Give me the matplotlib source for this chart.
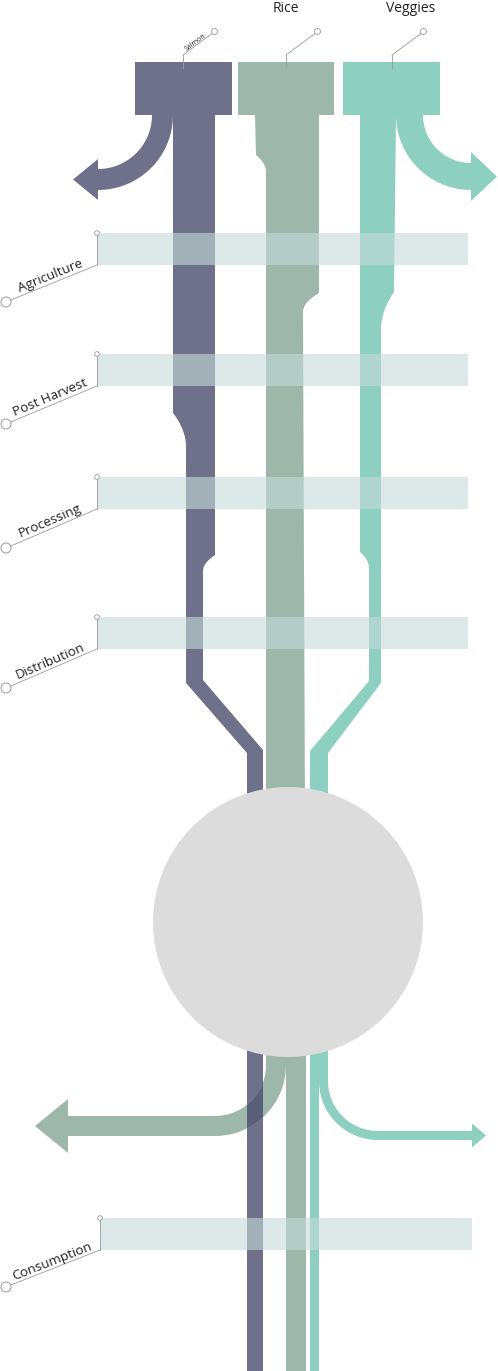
import numpy as np
import matplotlib
matplotlib.use('Agg')
import matplotlib.pyplot as plt
from matplotlib.patches import Polygon, Circle, Rectangle

plt.rcParams['font.family'] = ['Open Sans', 'DejaVu Sans']

foods = ['Salmon', 'Rice', 'Veggies']
stages = ['Agriculture', 'Post Harvest', 'Processing', 'Distribution', 'Consumption']
food_colors = ['#6f7089', '#9db8ab', '#8dd0c0']

# stream width (px) of each food: header, after agriculture, after post harvest,
# after processing, arriving at the table
salmon_w = [97, 42, 29, 17, 16]
rice_w = [96, 64, 53, 37, 40]
veggies_w = [97, 36, 21, 12, 18]
# width leaving as a loss arrow: [agriculture, consumption]
salmon_loss = [21, 0]
rice_loss = [0, 20]
veggies_loss = [27, 9]

# ---- layout (pixels, y down) ----
W_PX, H_PX = 498, 1371
head_x = [135, 238, 343]
head_top, head_bot = 62, 115
trunk_x = [173, 255, 360]
bottom_x = [247, 266, 310]        # where salmon / rice / veggies run past the plate
band_top = [233, 354, 477, 617, 1218]
band_h = 32
band_x0 = [97, 97, 97, 97, 100]
band_x1 = [468, 468, 468, 468, 472]
label_dot_y = [302, 424, 548, 688, 1287]
plate = (288, 922, 135)
band_color = '#c5dbd9'
line_color = '#9a9a9a'

fig = plt.figure(figsize=(W_PX / 100, H_PX / 100), dpi=100)
ax = fig.add_axes([0, 0, 1, 1])
ax.set_xlim(0, W_PX)
ax.set_ylim(H_PX, 0)
ax.axis('off')


def edge(pts, n=24):
    # pts: (y, x) or (y, x, 'o'); 'o' = bend in fast, then straighten out
    ys, xs = [pts[0][0]], [pts[0][1]]
    for p0, p1 in zip(pts[:-1], pts[1:]):
        y0, x0 = p0[0], p0[1]
        y1, x1 = p1[0], p1[1]
        t = np.linspace(0, 1, n)[1:]
        f = 1 - (1 - t) ** 2 if len(p1) > 2 else t
        ys.extend(y0 + (y1 - y0) * t)
        xs.extend(x0 + (x1 - x0) * f)
    return np.column_stack([xs, ys])


def trunk(left, right, color):
    pts = np.vstack([edge(left), edge(right)[::-1]])
    ax.add_patch(Polygon(pts, closed=True, fc=color, ec='none', zorder=2))


def bent_arrow(cx, cy, r_in, width, side, y_top, x_base, head, x_tip, color, z=2):
    # side=+1: flow comes down right of the centre and turns left; -1 the mirror
    r_out = r_in + width
    th = np.linspace(0, np.pi / 2, 40)
    inner = np.column_stack([cx + side * r_in * np.cos(th), cy + r_in * np.sin(th)])
    outer = np.column_stack([cx + side * r_out * np.cos(th), cy + r_out * np.sin(th)])[::-1]
    yc = cy + r_in + width / 2
    pts = [(cx + side * r_in, y_top)] + list(inner) + [
        (x_base, cy + r_in), (x_base, yc - head), (x_tip, yc),
        (x_base, yc + head), (x_base, cy + r_out)] + list(outer) + [(cx + side * r_out, y_top)]
    p = Polygon(pts, closed=True, fc=color, ec='none', zorder=z)
    ax.add_patch(p)
    return p


# headers
for x0, w, c in zip(head_x, [salmon_w[0], rice_w[0], veggies_w[0]], food_colors):
    ax.add_patch(Rectangle((x0, head_top), w, head_bot - head_top, fc=c, ec='none', zorder=2))

# salmon
L, w = trunk_x[0], salmon_w
l_ph = L + w[1] - w[2]
trunk([(head_bot, L), (413, L), (447, l_ph, 'o'), (683, l_ph), (753, bottom_x[0]), (H_PX, bottom_x[0])],
      [(head_bot, L + w[1]), (555, L + w[1]), (571, l_ph + w[3], 'o'), (680, l_ph + w[3]),
       (750, bottom_x[0] + w[4]), (H_PX, bottom_x[0] + w[4])], food_colors[0])
bent_arrow(98, head_bot, L - salmon_loss[0] - 98, salmon_loss[0], 1, head_bot, 98, 20.5, 73, food_colors[0])

# rice
R, w = trunk_x[1], rice_w
l_ag = R + w[1] - w[2]
trunk([(head_bot, R), (155, R + 1), (172, l_ag, 'o'), (1065, l_ag)],
      [(head_bot, R + w[1]), (293, R + w[1]), (312, l_ag + w[3], 'o'), (1065, l_ag + w[4])],
      food_colors[1])
rice_main_x = l_ag + w[4] - (w[4] - rice_loss[1])
ax.add_patch(Rectangle((rice_main_x, 1040), w[4] - rice_loss[1], H_PX - 1040,
                       fc=food_colors[1], ec='none', zorder=2))

# veggies
V, w = trunk_x[2], veggies_w
l_pr = V + w[2] - w[3]
trunk([(head_bot, V), (552, V), (568, l_pr, 'o'), (681, l_pr), (751, bottom_x[2]), (1050, bottom_x[2])],
      [(head_bot, V + w[1]), (292, V + w[1] - 2), (330, V + w[2], 'o'), (683, V + w[2]),
       (753, bottom_x[2] + w[4]), (1050, bottom_x[2] + w[4])], food_colors[2])
ax.add_patch(Rectangle((bottom_x[2], 1040), w[4] - veggies_loss[1], H_PX - 1040,
                       fc=food_colors[2], ec='none', zorder=2))
bent_arrow(471, head_bot, 471 - (V + w[1] + veggies_loss[0]), veggies_loss[0], -1,
           head_bot, 471, 24.5, 497, food_colors[2])
veg_branch_x = bottom_x[2] + w[4]
bent_arrow(378, 1081, 378 - veg_branch_x, veggies_loss[1], -1, 1040, 472, 12, 486, food_colors[2])

# rice loss at the table, crossing over the salmon
rb = bent_arrow(215, 1065, l_ag - 215, rice_loss[1], 1, 1040, 68, 27, 35, food_colors[1], z=3)
over = Rectangle((bottom_x[0], 1040), salmon_w[4], 200, fc='#5a6079', ec='none', zorder=3.5)
ax.add_patch(over)
over.set_clip_path(rb)

# plate
ax.add_patch(Circle(plate[:2], plate[2], fc='#dcdcdc', ec='none', zorder=4))

# stage bands and labels
for name, yt, x0, x1, yd in zip(stages, band_top, band_x0, band_x1, label_dot_y):
    ax.add_patch(Rectangle((x0, yt), x1 - x0, band_h, fc=band_color, ec='none',
                           alpha=0.6, zorder=5))
    yb = yt + band_h
    xs, ys = 6 + 4.6, yd - 1.9
    ax.plot([x0, x0], [yt, yb], color=line_color, lw=0.6, zorder=6)
    ax.plot([xs, x0], [ys, yb], color=line_color, lw=0.6, zorder=6)
    ax.add_patch(Circle((x0, yt), 2.3, fc='white', ec=line_color, lw=0.6, zorder=7))
    ax.add_patch(Circle((6, yd), 5, fc='white', ec=line_color, lw=0.7, zorder=7))
    ang = np.arctan2(ys - yb, x0 - xs)
    mx, my = (xs + x0) / 2 - 1, (ys + yb) / 2
    off = 3.5
    ax.text(mx - off * np.sin(ang), my - off * np.cos(ang), name, rotation=np.degrees(ang),
            rotation_mode='anchor', ha='center', va='baseline', fontsize=9.6,
            color='#222222', zorder=8)

# food labels at the top
for i, (name, cx) in enumerate(zip(foods, [183, 286, 392])):
    ax.plot([cx, cx], [head_top + 6, 55], color=line_color, lw=0.6, zorder=6)
    ax.plot([cx, cx + 29], [55, 33.5], color=line_color, lw=0.6, zorder=6)
    ax.add_patch(Circle((cx + 31.5, 31.5), 3, fc='white', ec=line_color, lw=0.6, zorder=7))
    if name == 'Salmon':
        ang = np.arctan2(55 - 33.5, 29)
        mx, my = cx + 14, 44.5
        ax.text(mx - 1.5 * np.sin(ang), my - 1.5 * np.cos(ang), name,
                rotation=np.degrees(ang), rotation_mode='anchor', ha='center',
                va='baseline', fontsize=5, color='#222222', zorder=8)
    else:
        ax.text(cx + (0 if name == 'Rice' else 19), 8, name, ha='center', va='center',
                fontsize=10, color='#222222', zorder=8)

fig.savefig('out.png', dpi=100)
